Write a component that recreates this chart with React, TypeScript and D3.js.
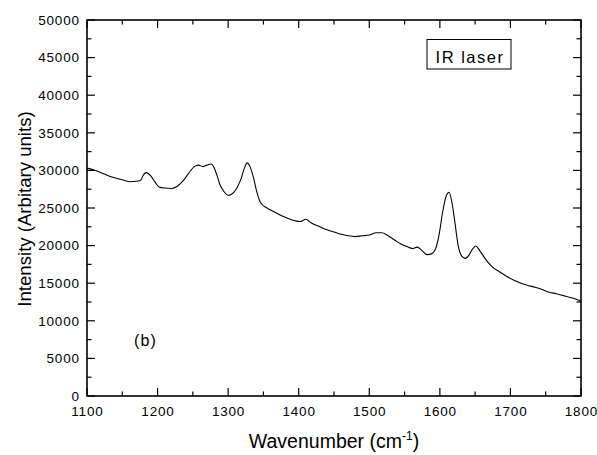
import React from "react";
import * as d3 from "d3";

const wavenumbers = [1100,1110,1120,1130,1140,1150,1160,1170,1176,1180,1184,1190,1196,1202,1210,1220,1228,1236,1244,1252,1258,1264,1270,1276,1280,1284,1288,1294,1300,1306,1312,1318,1323,1327,1331,1336,1341,1346,1355,1365,1375,1385,1395,1402,1410,1418,1430,1440,1450,1460,1470,1480,1490,1500,1510,1518,1525,1535,1545,1555,1562,1568,1574,1582,1588,1594,1599,1604,1609,1613,1617,1621,1626,1631,1636,1641,1646,1651,1656,1661,1668,1675,1685,1695,1705,1715,1725,1735,1745,1755,1765,1775,1785,1795,1800];
const intensities = [30300,30050,29700,29300,29000,28750,28500,28550,28700,29400,29700,29300,28500,27800,27650,27600,27900,28600,29600,30500,30700,30500,30700,30850,30400,29400,28200,27200,26700,26900,27600,28800,30300,31000,30500,29000,27000,25700,25000,24500,24000,23600,23300,23200,23500,23000,22500,22100,21800,21500,21300,21200,21300,21400,21700,21700,21400,20800,20200,19800,19600,19800,19400,18800,18900,19600,21500,24500,26600,27100,25800,23300,20000,18600,18300,18700,19500,19950,19400,18700,17800,17100,16500,15900,15400,15000,14700,14450,14150,13800,13600,13350,13100,12800,12600];

const xTicks = [1100,1200,1300,1400,1500,1600,1700,1800];
const yTicks = [0,5000,10000,15000,20000,25000,30000,35000,40000,45000,50000];
const xMinor = [1150,1250,1350,1450,1550,1650,1750];
const yMinor = [2500,7500,12500,17500,22500,27500,32500,37500,42500,47500];

export default function App() {
  const W = 597, H = 455;
  const L = 87, R = 581, T = 20, B = 396;
  const x = d3.scaleLinear().domain([1100, 1800]).range([L, R]);
  const y = d3.scaleLinear().domain([0, 50000]).range([B, T]);
  const pts: [number, number][] = wavenumbers.map((w, i) => [w, intensities[i]]);
  const line = d3.line<[number, number]>().x(d => x(d[0])).y(d => y(d[1])).curve(d3.curveMonotoneX);
  const font = "Arial, 'Liberation Sans', sans-serif";
  const maj = 8, mnr = 4.5;
  const tickFs = 13.5, tickLs = 0.8;
  return (
    <svg width={W} height={H} style={{ position: "absolute", left: 0, top: 0 }}>
      <rect width={W} height={H} fill="#fff" />
      <path d={line(pts) || ""} fill="none" stroke="#000" strokeWidth={1.1} />
      <rect x={L} y={T} width={R - L} height={B - T} fill="none" stroke="#000" strokeWidth={1.6} />
      {xTicks.map(t => (
        <g key={"xt" + t}>
          <line x1={x(t)} x2={x(t)} y1={B} y2={B - maj} stroke="#000" strokeWidth={1.2} />
          <line x1={x(t)} x2={x(t)} y1={T} y2={T + maj} stroke="#000" strokeWidth={1.2} />
          <text x={x(t) + tickLs / 2} y={416} textAnchor="middle" fontFamily={font} fontSize={tickFs} letterSpacing={tickLs}>{t}</text>
        </g>
      ))}
      {xMinor.map(t => (
        <g key={"xm" + t}>
          <line x1={x(t)} x2={x(t)} y1={B} y2={B - mnr} stroke="#000" strokeWidth={1.2} />
          <line x1={x(t)} x2={x(t)} y1={T} y2={T + mnr} stroke="#000" strokeWidth={1.2} />
        </g>
      ))}
      {yTicks.map(t => (
        <g key={"yt" + t}>
          <line x1={L} x2={L + maj} y1={y(t)} y2={y(t)} stroke="#000" strokeWidth={1.2} />
          <line x1={R} x2={R - maj} y1={y(t)} y2={y(t)} stroke="#000" strokeWidth={1.2} />
          <text x={79 + tickLs} y={y(t) + 4.8} textAnchor="end" fontFamily={font} fontSize={tickFs} letterSpacing={tickLs}>{t}</text>
        </g>
      ))}
      {yMinor.map(t => (
        <g key={"ym" + t}>
          <line x1={L} x2={L + mnr} y1={y(t)} y2={y(t)} stroke="#000" strokeWidth={1.2} />
          <line x1={R} x2={R - mnr} y1={y(t)} y2={y(t)} stroke="#000" strokeWidth={1.2} />
        </g>
      ))}
      <text x={334} y={448} textAnchor="middle" fontFamily={font} fontSize={19.5}>
        Wavenumber (cm<tspan dy={-8} fontSize={12}>-1</tspan><tspan dy={8}>)</tspan>
      </text>
      <text transform={`translate(31,209) rotate(-90)`} textAnchor="middle" fontFamily={font} fontSize={18.6}>
        Intensity (Arbitary units)
      </text>
      <rect x={427} y={39.5} width={84} height={29.5} fill="#fff" stroke="#000" strokeWidth={1} />
      <text x={470} y={63} textAnchor="middle" fontFamily={font} fontSize={16.5} letterSpacing={1.5}>IR laser</text>
      <text x={145.5} y={346} textAnchor="middle" fontFamily={font} fontSize={16} letterSpacing={1.2}>(b)</text>
    </svg>
  );
}
